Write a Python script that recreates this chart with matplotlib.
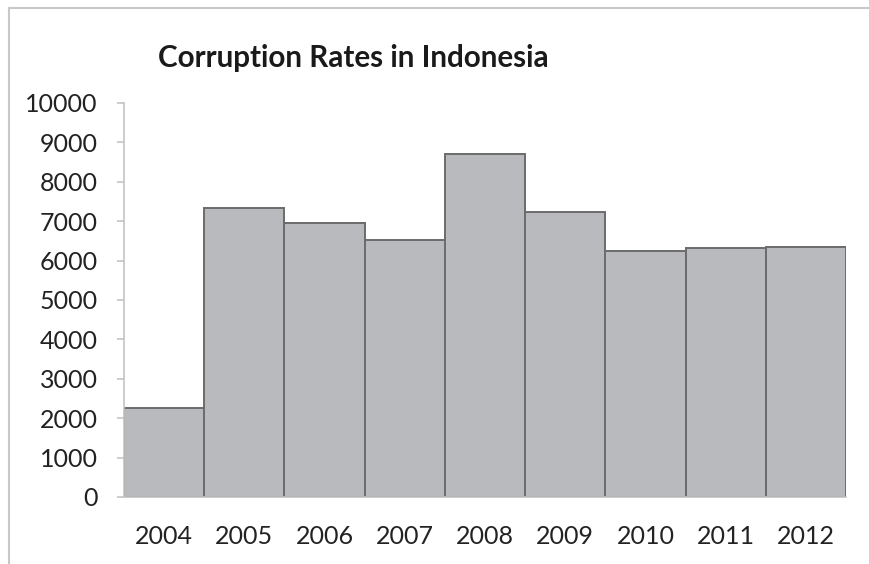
import matplotlib
matplotlib.use("Agg")
import matplotlib.pyplot as plt
from matplotlib.lines import Line2D

years = ["2004", "2005", "2006", "2007", "2008", "2009", "2010", "2011", "2012"]
cases = [2260, 7335, 6955, 6535, 8700, 7230, 6250, 6310, 6355]
y_ticks = [0, 1000, 2000, 3000, 4000, 5000, 6000, 7000, 8000, 9000, 10000]

plt.rcParams['font.family'] = ['Lato', 'DejaVu Sans']

fig = plt.figure(figsize=(8.7, 5.64), dpi=100)
ax = fig.add_axes([0.1425, 0.1188, 0.8299, 0.6986])

ax.bar(range(len(years)), cases, width=1.0, color="#b9babe",
       edgecolor="#6b6b6b", linewidth=1.4)

ax.set_xlim(-0.5, len(years) - 0.5)
ax.set_ylim(0, 10000)
ax.set_yticks(y_ticks)
ax.set_xticks(range(len(years)))
ax.set_xticklabels(years)

for s in ["top", "right"]:
    ax.spines[s].set_visible(False)
ax.spines["left"].set_color("#c4c4c4")
ax.spines["bottom"].set_color("#c4c4c4")
ax.spines["left"].set_linewidth(1.2)
ax.spines["bottom"].set_linewidth(1.2)

ax.tick_params(axis="y", length=5, width=1.2, color="#c4c4c4", pad=14,
               labelsize=18, labelcolor="#222222")
ax.tick_params(axis="x", length=0, pad=20, labelsize=18, labelcolor="#222222")

fig.text(0.406, 0.898, "Corruption Rates in Indonesia", ha="center", va="center",
         fontsize=21.3, fontweight="bold", color="#1a1a1a")

# light frame on the top and left edges
fig.add_artist(Line2D([0.0105, 1.0], [0.986, 0.986], transform=fig.transFigure,
                      color="#c8c8c8", linewidth=1.5))
fig.add_artist(Line2D([0.0105, 0.0105], [0.0, 0.986], transform=fig.transFigure,
                      color="#c8c8c8", linewidth=1.5))

fig.savefig("out.png", dpi=100)
